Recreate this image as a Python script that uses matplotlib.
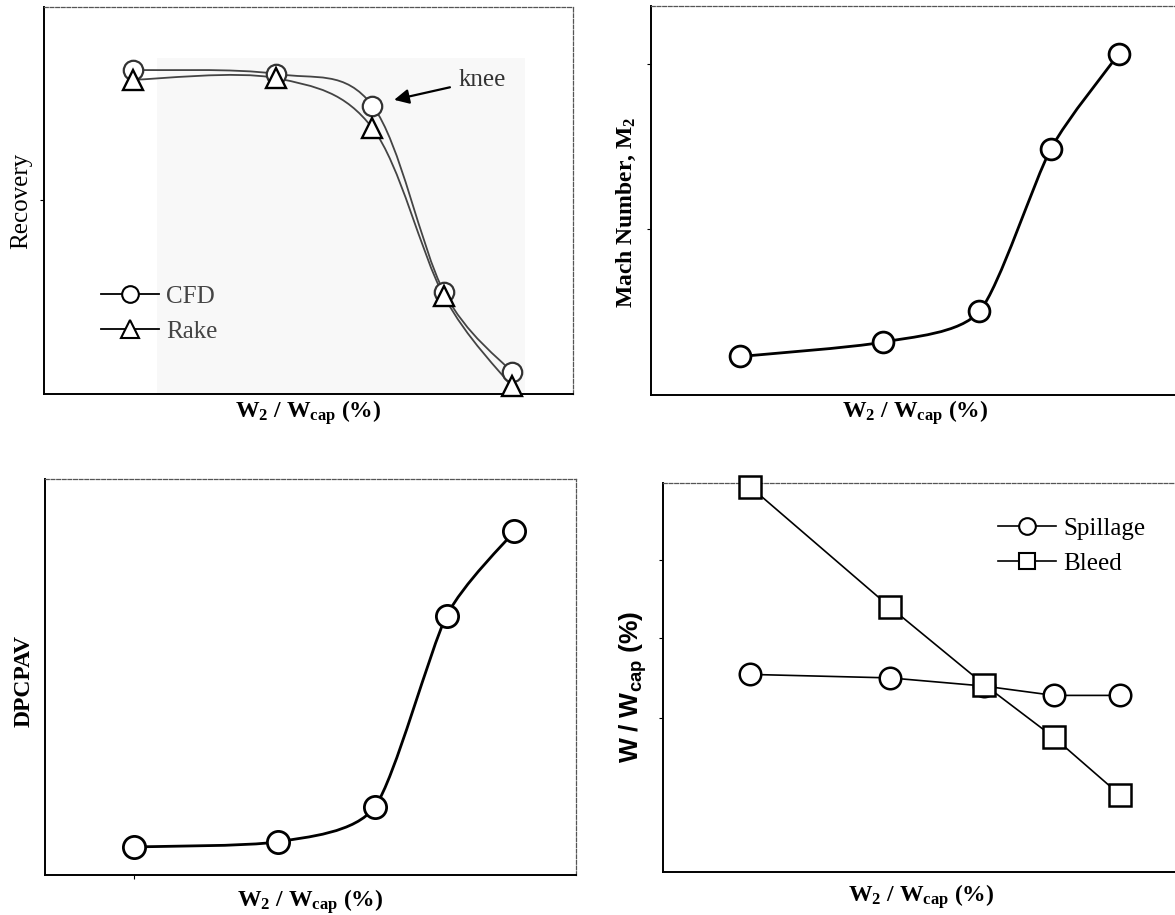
import matplotlib
matplotlib.use("Agg")
import matplotlib.pyplot as plt
import numpy as np
from matplotlib.path import Path
from matplotlib.patches import PathPatch, Rectangle
from matplotlib.lines import Line2D

plt.rcParams['font.family'] = ['Liberation Serif', 'DejaVu Serif']
plt.rcParams['mathtext.fontset'] = 'custom'
plt.rcParams['mathtext.rm'] = 'Liberation Serif:bold'
plt.rcParams['mathtext.it'] = 'Liberation Serif:bold:italic'
plt.rcParams['mathtext.bf'] = 'Liberation Serif:bold'
plt.rcParams['mathtext.sf'] = 'Liberation Sans:bold'

# W2/Wcap operating points (same five in every panel, no tick labels in the original)
w2 = [16.8, 43.9, 62.1, 75.6, 88.4]

# normalised values (axes run 0..1)
recovery_cfd = [0.837, 0.827, 0.745, 0.264, 0.057]
recovery_rake = [0.812, 0.816, 0.687, 0.253, 0.020]
mach_m2 = [0.099, 0.136, 0.215, 0.633, 0.876]
dpcpav = [0.071, 0.084, 0.172, 0.654, 0.868]
spillage = [0.508, 0.499, 0.478, 0.454, 0.454]
bleed = [0.991, 0.681, 0.482, 0.346, 0.198]

FS = 17
xlab = r'W$_{2}$ / W$_{\mathrm{cap}}$ (%)'


def smooth_path(x, y, k=1.0):
    # catmull-rom through the points, drawn as bezier
    pts = np.column_stack([x, y]).astype(float)
    ext = np.vstack([pts[0], pts, pts[-1]])
    verts = [pts[0]]
    codes = [Path.MOVETO]
    for i in range(len(pts) - 1):
        p0, p1, p2, p3 = ext[i], ext[i + 1], ext[i + 2], ext[i + 3]
        verts += [p1 + (p2 - p0) * k / 6, p2 - (p3 - p1) * k / 6, p2]
        codes += [Path.CURVE4] * 3
    return Path(verts, codes)


def curve(ax, x, y, color='k', lw=2.0, k=1.0):
    ax.add_patch(PathPatch(smooth_path(x, y, k), fill=False, edgecolor=color,
                           lw=lw, zorder=2, capstyle='round', joinstyle='round'))


def style(ax):
    ax.set_xlim(0, 100)
    ax.set_ylim(0, 1)
    for s in ['left', 'bottom']:
        ax.spines[s].set_linewidth(1.4)
        ax.spines[s].set_color('k')
    for s in ['top', 'right']:
        ax.spines[s].set_linewidth(0.9)
        ax.spines[s].set_color('#555555')
        ax.spines[s].set_linestyle((0, (3, 1.5)))
    ax.tick_params(length=3, width=0.8, labelbottom=False, labelleft=False,
                   direction='out')
    ax.set_xticks([])
    ax.set_yticks([])


fig = plt.figure(figsize=(11.75, 9.15), dpi=100)
ax1 = fig.add_axes([0.0374, 0.5694, 0.4502, 0.4230])
ax2 = fig.add_axes([0.5540, 0.5683, 0.4502, 0.4251])
ax3 = fig.add_axes([0.0383, 0.0437, 0.4520, 0.4328])
ax4 = fig.add_axes([0.5643, 0.0470, 0.4400, 0.4251])
for a in (ax1, ax2, ax3, ax4):
    style(a)

# --- Recovery ---
ax1.add_patch(Rectangle((0.214, 0.0), 0.695, 0.868, transform=ax1.transAxes,
                        facecolor='#f8f8f8', edgecolor='none', zorder=0))
curve(ax1, w2, recovery_cfd, color='#444444', lw=1.3)
curve(ax1, w2, recovery_rake, color='#444444', lw=1.3)
ax1.plot(w2, recovery_cfd, ls='none', marker='o', ms=14, mfc='white',
         mec='#333333', mew=1.6, zorder=3)
ax1.plot(w2, recovery_rake, ls='none', marker='^', ms=15, mfc='white',
         mec='k', mew=1.7, zorder=4, clip_on=False)
ax1.set_yticks([0.5])
ax1.set_ylabel('Recovery', fontsize=FS + 1, va='center')
ax1.yaxis.set_label_coords(-0.0435, 0.5)
ax1.set_xlabel(xlab, fontsize=FS, fontweight='bold', va='center')
ax1.xaxis.set_label_coords(0.5, -0.049)
ax1.annotate('knee', xy=(66.2, 0.76), xytext=(78.3, 0.811), fontsize=FS + 1,
             color='#333333', ha='left', va='center',
             arrowprops=dict(arrowstyle='-|>', color='k', lw=1.6,
                             mutation_scale=22, shrinkA=4, shrinkB=0))
h1 = [Line2D([], [], color='k', lw=1.3, marker='o', ms=12, mfc='white',
             mec='k', mew=1.5),
      Line2D([], [], color='k', lw=1.3, marker='^', ms=13, mfc='white',
             mec='k', mew=1.5)]
leg1 = ax1.legend(h1, ['CFD', 'Rake'], loc='center left',
                  bbox_to_anchor=(0.108, 0.207), frameon=False, fontsize=FS + 1,
                  handlelength=2.3, handletextpad=0.3, labelspacing=0.5,
                  borderpad=0, borderaxespad=0)
for t in leg1.get_texts():
    t.set_color('#444444')

# --- Mach number ---
curve(ax2, w2, mach_m2, lw=2.0, k=0.7)
ax2.plot(w2, mach_m2, ls='none', marker='o', ms=15, mfc='white', mec='k',
         mew=2.0, zorder=3)
ax2.set_yticks([0.426, 0.85])
ax2.set_ylabel(r'Mach Number, M$_{2}$', fontsize=FS, fontweight='bold',
               va='center')
ax2.yaxis.set_label_coords(-0.047, 0.47)
ax2.set_xlabel(xlab, fontsize=FS, fontweight='bold', va='center')
ax2.xaxis.set_label_coords(0.5, -0.046)

# --- DPCPAV ---
curve(ax3, w2, dpcpav, lw=2.0, k=0.7)
ax3.plot(w2, dpcpav, ls='none', marker='o', ms=16, mfc='white', mec='k',
         mew=2.0, zorder=3)
ax3.set_xticks([w2[0]])
ax3.set_ylabel('DPCPAV', fontsize=FS, fontweight='bold', va='center')
ax3.yaxis.set_label_coords(-0.04, 0.49)
ax3.set_xlabel(xlab, fontsize=FS, fontweight='bold', va='center')
ax3.xaxis.set_label_coords(0.5, -0.068)

# --- Spillage / bleed ---
ax4.plot(w2, spillage, color='k', lw=1.2, marker='o', ms=15.5, mfc='white',
         mec='k', mew=1.8, zorder=3)
ax4.plot(w2, bleed, color='k', lw=1.2, marker='s', ms=15.5, mfc='white',
         mec='k', mew=1.8, zorder=4, clip_on=False)
ax4.set_yticks([0.397, 0.601, 0.802])
ax4.set_ylabel(r'$\mathsf{W\ /\ W_{cap}\ (\%)}$', fontsize=FS + 2, va='center')
ax4.yaxis.set_label_coords(-0.058, 0.476)
ax4.set_xlabel(xlab, fontsize=FS, fontweight='bold', va='center')
ax4.xaxis.set_label_coords(0.5, -0.064)
h4 = [Line2D([], [], color='k', lw=1.2, marker='o', ms=12, mfc='white',
             mec='k', mew=1.5),
      Line2D([], [], color='k', lw=1.2, marker='s', ms=11, mfc='white',
             mec='k', mew=1.5)]
ax4.legend(h4, ['Spillage', 'Bleed'], loc='center left',
           bbox_to_anchor=(0.648, 0.837), frameon=False, fontsize=FS + 1,
           handlelength=2.3, handletextpad=0.3, labelspacing=0.5,
           borderpad=0, borderaxespad=0)

fig.savefig('out.png', dpi=100)
